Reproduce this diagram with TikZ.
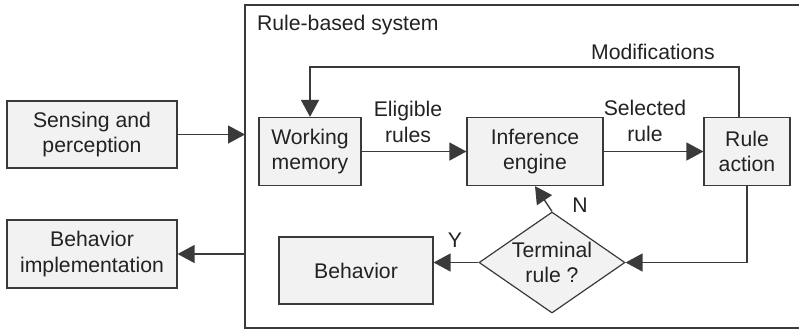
\documentclass[tikz,border=0pt]{standalone}
\usepackage{fontspec}
\setmainfont{Liberation Sans}
\usetikzlibrary{arrows.meta, shapes.geometric}

\begin{document}
\begin{tikzpicture}[
    x=0.5pt, y=-0.5pt,
    every node/.style={font=\fontsize{10.6}{12.6}\selectfont, text=txtcolor},
    block/.style={draw=linecolor, fill=boxfill, line width=0.6pt,
        align=center, inner sep=0pt},
    flow/.style={draw=linecolor, line width=0.7pt},
    tip/.style={-{Triangle[length=8.5pt, width=9pt]}},
]

\definecolor{boxfill}{HTML}{F2F2F2}
\definecolor{linecolor}{HTML}{3A3A3A}
\definecolor{txtcolor}{HTML}{222222}

% ================================================================
%   canvas in pixels of the reference, 799 x 329, y downwards
% ================================================================
\useasboundingbox (0,0) rectangle (799,329);

% ---------------------------------------------------------------- outer frame
\draw[flow, line width=0.6pt] (799,5) -| (245,328) -- (799,328);
\node[anchor=west] (title) at (250,25) {Rule-based system};
\coordinate (inport) at (245,134.5);
\coordinate (outport) at (245,254);

% ---------------------------------------------------------------- blocks
\node[block, minimum width=85pt, minimum height=33.5pt] (sense) at (92,134.5)
    {Sensing and\\perception};
\node[block, minimum width=85pt, minimum height=34pt] (impl) at (92,254)
    {Behavior\\implementation};
\node[block, minimum width=51pt, minimum height=34pt] (wm) at (310,151.5)
    {Working\\memory};
\node[block, minimum width=68pt, minimum height=34pt] (inf) at (535,151.5)
    {Inference\\engine};
\node[block, minimum width=43pt, minimum height=34pt] (act) at (747,151.5)
    {Rule\\action};
\node[block, minimum width=77pt, minimum height=33.5pt] (beh) at (356,270.5)
    {Behavior};
\node[block, shape=diamond, aspect=1.45, minimum width=73pt,
    minimum height=50.5pt] (term) at (552,262.5) {Terminal\\rule ?};

% ---------------------------------------------------------------- connectors
\draw[flow, tip] (sense.east) -- (inport);
\draw[flow, tip] (outport) -- (impl.east);
\draw[flow, tip] (wm) -- (inf);
\draw[flow, tip] (inf) -- (act);
\draw[flow, tip] (term.north) -- (inf.south);
\draw[flow, tip] (term.west) -- (term.west -| beh.east);
\draw[flow, tip] (act.south) |- (term.east);

% feedback leaves the action box a little left of its middle
\coordinate (modtop) at (739,67);
\draw[flow, tip] (act.north -| modtop) -- (modtop) -| (wm.north);

% ---------------------------------------------------------------- labels
\node (mods) at (653,52) {Modifications};
\node[align=center] (elig) at (408,122) {Eligible\\rules};
\node[align=center] (sel) at (645,121) {Selected\\rule};
\node (nlab) at (580,205) {N};
\node (ylab) at (455,240) {Y};

\end{tikzpicture}
\end{document}
